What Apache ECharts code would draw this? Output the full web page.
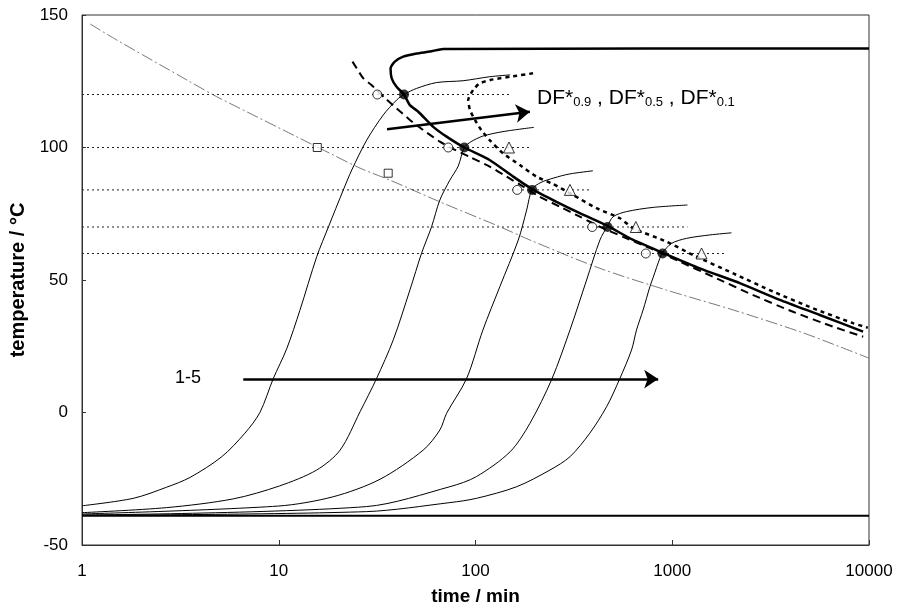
<!DOCTYPE html>
<html>
<head>
<meta charset="utf-8">
<script src="https://cdn.jsdelivr.net/npm/echarts@6/dist/echarts.min.js"></script>
<style>html,body{margin:0;padding:0;background:#fff;}#chart{width:900px;height:611px;}</style>
</head>
<body>
<div id="chart"></div>
<script>
// ---- tick labels ----
const xTickLabels = ['1', '10', '100', '1000', '10000'];
const yTickLabels = ['-50', '0', '50', '100', '150'];

// ---- dotted reference levels (temperature, end time) ----
const levelTemps = [120, 100, 84, 70, 60];
const levelEnds = [150, 189, 383, 1195, 1885];

// ---- product temperature curves 1-5 ----
const curve1 = [[1,-35.2],[1.82,-32.4],[2.69,-28.2],[3.54,-24.5],[5.13,-16.7],[6.73,-7.8],[8.02,0],[9.38,12.8],[10.97,24],[12.8,38.5],[15.6,58.8],[17.9,70.1],[21.3,84],[23.5,91.5],[28,102.8],[34,112.3],[39.7,117.9],[43.3,120],[50.2,122.3],[63.4,124.5],[86.5,125.2],[118,126.7],[150,127.4]];
const curve2 = [[1,-37.8],[2.69,-35.9],[5.87,-32.6],[10.1,-27.7],[15.6,-21.7],[20.5,-14.2],[25.9,0.3],[31.4,12.8],[38.2,27.4],[46.4,46.2],[53.2,60.1],[59.8,70.1],[65.9,80.2],[74.1,87.7],[81.7,93],[87.7,100],[95,102.2],[109,104.3],[138,106],[198,107.6]];
const curve3 = [[1,-38.3],[9.95,-35.3],[18.9,-31.8],[32.7,-25.2],[54.2,-14.2],[65.9,-6.6],[71.3,-0.3],[90.1,12.8],[109,31.1],[133,47.5],[165,65.1],[182,76.4],[194,84.3],[215,86.8],[250,88.5],[300,90],[395,91.2]];
const curve4 = [[1,-38.7],[28,-35.5],[74.1,-28],[101,-24.2],[150,-14.8],[189,-4.1],[244,12.5],[302,31.1],[367,50],[429,65.1],[469,70.4],[501,73.9],[585,75.8],[800,77.4],[1195,78.3]];
const curve5 = [[1,-38.8],[28,-37.4],[74.1,-34],[101,-32.4],[162,-28],[239,-21.7],[302,-16.7],[381,-7.8],[464,2.2],[540,12.6],[621,23.6],[658,31.1],[711,38.7],[770,47.5],[800,51],[865,58.2],[893,60.3],[991,63.8],[1180,65.7],[1552,67],[2000,67.8]];

// ---- bottom (shelf) temperature ----
const shelfLine = [[1,-39],[10000,-39]];

// ---- design space curves ----
const df05 = [[10000,137.4],[68.5,137.2],[58.7,136.2],[50.2,135.5],[42.9,134.3],[38.9,132.4],[37.0,129.9],[37.5,126.1],[39.7,122.9],[43.3,120],[46.4,116],[51.2,113.5],[61,107.8],[71.3,104.1],[87.7,100],[118,95.3],[155.5,89],[194,84.3],[258,79.5],[339,75.2],[469,70.4],[633,65.1],[893,60.3],[1380,54.4],[2205,48.8],[3520,42.5],[5620,36.8],[9330,30.5]];
const df09 = [[23.7,132.4],[24.9,129.9],[26.9,126.1],[29.6,123.6],[34.7,118.6],[39.7,114.8],[46.4,110.4],[54.2,106.6],[65.9,102.2],[77.1,99.4],[93.7,96.4],[118,92.8],[144,89],[175,85.2],[212,81.4],[268,77.7],[339,73.9],[429,70.1],[562,66.3],[770,62],[1094,56.9],[1615,51.2],[2580,44.3],[4110,38],[6570,32.4],[9340,28.6]];
const df01 = [[196,128],[150,126.7],[123,125.7],[105,124.2],[97.3,121.7],[91.8,117.9],[93.7,114.2],[99.3,110.4],[107,106.6],[118,102.8],[138,97.8],[168,93.4],[204,89],[248,86.2],[313,82.1],[412,77.1],[542,73.3],[633,69.5],[935,64.5],[1277,59.4],[2040,52.5],[3260,45.6],[5200,39.3],[8300,33.7],[9860,32]];
const collapseLine = [[1.1,146.6],[1.5,140.6],[3.54,124.8],[4.83,119.2],[6.87,113.5],[12.3,104.1],[18.2,97.8],[25.9,92.2],[36.7,87.7],[65.9,79.5],[133,70.1],[189,65.1],[429,54.4],[935,46.2],[2040,38.7],[4450,30.5],[7110,24.8],[10000,20.5]];

// ---- markers ----
const openCircles = [[31.7,120],[72.7,100],[163,84],[392,70],[734,60]];
const blackDots = [[43.3,120],[87.7,100],[194,84],[469,70],[893,60]];
const triangles = [[148,100],[302,84],[653,70],[1409,60]];
const squares = [[15.7,100],[36,90.3]];

// ---- annotation arrows ----
const arrowCurves = [[6.6,12.6],[848,12.6]];
const arrowDF = [[35.5,106.9],[189,113.5]];

const FONT = '"Liberation Sans", Arial, sans-serif';
const chart = echarts.init(document.getElementById('chart'), null, {renderer: 'canvas'});

const series = [];
levelTemps.forEach((t, i) => {
  series.push({type:'line', data:[[1,t],[levelEnds[i],t]], symbol:'none', silent:true,
    lineStyle:{color:'#222', width:1, type:[2,3]}, z:1});
});
series.push({type:'line', data:collapseLine, symbol:'none', smooth:0.3, silent:true,
  lineStyle:{color:'#555', width:0.8, type:[12,3,2,3]}, z:2});
[curve1, curve2, curve3, curve4, curve5].forEach(c => {
  series.push({type:'line', data:c, symbol:'none', smooth:0.3, silent:true,
    lineStyle:{color:'#000', width:1}, z:3});
});
series.push({type:'line', data:shelfLine, symbol:'none', silent:true,
  lineStyle:{color:'#000', width:2}, z:3,
  markLine:{silent:true, symbol:['none','arrow'], symbolSize:14, label:{show:false},
    lineStyle:{color:'#000', width:2.5, type:'solid'}, emphasis:{disabled:true},
    data:[[{coord:arrowCurves[0]},{coord:arrowCurves[1]}],[{coord:arrowDF[0]},{coord:arrowDF[1]}]]}});
series.push({type:'line', data:df09, symbol:'none', smooth:0.2, silent:true,
  lineStyle:{color:'#000', width:2, type:[8,5]}, z:4});
series.push({type:'line', data:df01, symbol:'none', smooth:0.2, silent:true,
  lineStyle:{color:'#000', width:2.5, type:[4,4]}, z:4});
series.push({type:'line', data:df05, symbol:'none', smooth:0.2, silent:true,
  lineStyle:{color:'#000', width:2.5}, z:5});
series.push({type:'scatter', data:openCircles, symbol:'circle', symbolSize:9, silent:true,
  itemStyle:{color:'#fff', borderColor:'#000', borderWidth:1}, z:6});
series.push({type:'scatter', data:blackDots, symbol:'circle', symbolSize:10, silent:true,
  itemStyle:{color:'#000'}, z:6});
series.push({type:'scatter', data:triangles, symbol:'triangle', symbolSize:11, silent:true,
  itemStyle:{color:'#fff', borderColor:'#000', borderWidth:1}, z:6});
series.push({type:'scatter', data:squares, symbol:'rect', symbolSize:8, silent:true,
  itemStyle:{color:'#fff', borderColor:'#000', borderWidth:1}, z:6});

const option = {
  animation:false,
  backgroundColor:'#fff',
  grid:{left:82, right:31, top:15, bottom:66, show:true, borderColor:'#333', borderWidth:1, backgroundColor:'transparent'},
  xAxis:{type:'log', logBase:10, min:1, max:10000,
    name:'time / min', nameLocation:'middle', nameGap:42,
    nameTextStyle:{fontFamily:FONT, fontWeight:'bold', fontSize:19, color:'#000'},
    axisLine:{onZero:false, lineStyle:{color:'#333', width:1}},
    axisTick:{inside:true, length:5, lineStyle:{color:'#333'}},
    axisLabel:{fontFamily:FONT, fontSize:17, color:'#000', margin:18,
      formatter:v => xTickLabels[Math.round(Math.log10(v))]},
    splitLine:{show:false}, minorTick:{show:false}},
  yAxis:{type:'value', min:-50, max:150, interval:50,
    name:'temperature / °C', nameLocation:'middle', nameGap:53,
    nameTextStyle:{fontFamily:FONT, fontWeight:'bold', fontSize:20, color:'#000'},
    axisLine:{show:true, onZero:false, lineStyle:{color:'#333', width:1}},
    axisTick:{show:true, inside:true, length:4, lineStyle:{color:'#333'}},
    axisLabel:{fontFamily:FONT, fontSize:17, color:'#000', margin:14,
      formatter:v => yTickLabels[Math.round((v + 50) / 50)]},
    splitLine:{show:false}},
  graphic:[
    {type:'text', left:175, top:369, silent:true,
      style:{text:'1-5', fontFamily:FONT, fontSize:18, fill:'#000'}},
    {type:'text', left:537, top:88, silent:true,
      style:{text:'{a|DF*}{s|0.9}{a| , DF*}{s|0.5}{a| , DF*}{s|0.1}', fontFamily:FONT, fill:'#000',
        rich:{a:{fontFamily:FONT, fontSize:21, lineHeight:25, verticalAlign:'bottom', fill:'#000'},
              s:{fontFamily:FONT, fontSize:13, lineHeight:14, verticalAlign:'bottom', fill:'#000'}}}}
  ],
  series:series
};
chart.setOption(option);
</script>
</body>
</html>
